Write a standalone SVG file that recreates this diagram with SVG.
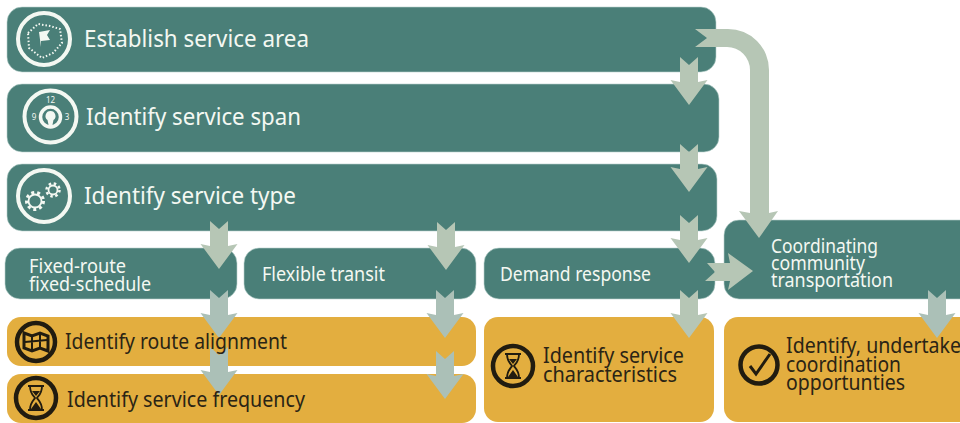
<svg xmlns="http://www.w3.org/2000/svg" width="960" height="423" viewBox="0 0 960 423">
<style>
text{font-family:"Noto Sans","Open Sans","Liberation Sans",sans-serif}
.t{fill:#4a7f78;stroke:#b9d2cd;stroke-width:.6}
.y{fill:#e3ae3f}
.lw{fill:#f4f8f2}
.ld{fill:#2a2415}
.f1{font-size:24px}.f2{font-size:19px}.f3{font-size:21px}
.a{fill:#b6c6b5}
.b{fill:#abc0b7}
.ri{fill:none;stroke:#f4f8f2;stroke-width:4}
.rd{fill:none;stroke:#211c10;stroke-width:4.500}
.iw{fill:none;stroke:#f4f8f2;stroke-width:1.800}
.id{fill:none;stroke:#211c10;stroke-width:1.800}
</style>
<defs>
<path id="down" d="M-9 0L0 8L9 0V25L18.500 23L0 48L-18.500 23L-9 25Z"/>
<g id="glass">
<circle class="rd" r="20"/>
<path class="id" d="M-8-12H8M-8 12H8M-6-12C-6-4 -2-2 -1 0C-2 2-6 4-6 12M6-12C6-4 2-2 1 0C2 2 6 4 6 12"/>
<path d="M-5 11L0 4L5 11ZM-4-7H4L0-2Z" fill="#211c10"/>
</g>
</defs>

<g id="node-establish-service-area">
<rect class="t" x="7" y="7" width="709" height="65" rx="15"/>
<circle class="ri" cx="44" cy="39" r="26"/>
<path d="M28 33L38 24L50 26L60 29L62 43L53 53L42 58L29 48Z" fill="none" stroke="#f4f8f2" stroke-width="2" stroke-dasharray="1.500 2"/>
<path d="M41 47L39 32L50 30L47 35L50 40L41 41" fill="#f4f8f2"/>
<text class="lw f1" x="84" y="47" textLength="225" lengthAdjust="spacingAndGlyphs">Establish service area</text>
</g>
<g id="node-identify-service-span">
<rect class="t" x="7" y="84" width="712" height="68" rx="15"/>
<circle class="ri" cx="50.500" cy="116.500" r="26"/>
<circle cx="50.500" cy="117" r="10" fill="none" stroke="#f4f8f2" stroke-width="3.500"/>
<path d="M50.500 111a5 5 0 0 1 3 9l-1.500 7h-3l-1.500-7a5 5 0 0 1 3-9Z" fill="#f4f8f2"/>
<text class="lw" x="50.500" y="103" font-size="8" text-anchor="middle">12</text>
<text class="lw" x="34" y="119.500" font-size="8" text-anchor="middle">9</text>
<text class="lw" x="67" y="119.500" font-size="8" text-anchor="middle">3</text>
<text class="lw f1" x="86" y="125" textLength="215" lengthAdjust="spacingAndGlyphs">Identify service span</text>
</g>
<g id="node-identify-service-type">
<rect class="t" x="7" y="164" width="710" height="67" rx="15"/>
<circle class="ri" cx="44" cy="196" r="26"/>
<circle class="iw" cx="35" cy="201" r="6.500"/>
<circle cx="35" cy="201" r="8.500" fill="none" stroke="#f4f8f2" stroke-width="3" stroke-dasharray="3 3"/>
<circle class="iw" cx="53" cy="190" r="4.500"/>
<circle cx="53" cy="190" r="6.500" fill="none" stroke="#f4f8f2" stroke-width="2.500" stroke-dasharray="2.500 2.600"/>
<text class="lw f1" x="84" y="204" textLength="212" lengthAdjust="spacingAndGlyphs">Identify service type</text>
</g>
<g id="node-fixed-route">
<rect class="t" x="5" y="248" width="232" height="51" rx="15"/>
<text class="lw f2" x="29" y="273" textLength="97" lengthAdjust="spacingAndGlyphs">Fixed-route</text>
<text class="lw f2" x="29" y="291" textLength="122" lengthAdjust="spacingAndGlyphs">fixed-schedule</text>
</g>
<g id="node-flexible-transit">
<rect class="t" x="244" y="248" width="232" height="51" rx="15"/>
<text class="lw f2" x="262" y="281" textLength="123" lengthAdjust="spacingAndGlyphs">Flexible transit</text>
</g>
<g id="node-demand-response">
<rect class="t" x="484" y="248" width="231" height="51" rx="15"/>
<text class="lw f2" x="500" y="281" textLength="151" lengthAdjust="spacingAndGlyphs">Demand response</text>
</g>
<g id="node-coordinating">
<rect class="t" x="724" y="220" width="260" height="79" rx="15"/>
<text class="lw f2" x="771" y="253" textLength="107" lengthAdjust="spacingAndGlyphs">Coordinating</text>
<text class="lw f2" x="771" y="270" textLength="94" lengthAdjust="spacingAndGlyphs">community</text>
<text class="lw f2" x="771" y="287" textLength="122" lengthAdjust="spacingAndGlyphs">transportation</text>
</g>
<g id="node-route-alignment">
<rect class="y" x="7" y="317" width="469" height="49" rx="14"/>
<circle class="rd" cx="36" cy="342" r="19"/>
<path d="M24 333L32 336L40 333L48 336V351L40 348L32 351L24 348Z" fill="#e3ae3f" stroke="#211c10" stroke-width="3"/>
<path d="M32 336V351M40 333V348M25 342L47 340" stroke="#211c10" stroke-width="2" fill="none"/>
</g>
<g id="node-service-frequency">
<rect class="y" x="7" y="374" width="469" height="49" rx="14"/>
<use href="#glass" x="36" y="398"/>
</g>
<g id="node-service-characteristics">
<rect class="y" x="484" y="317" width="230" height="105" rx="14"/>
<use href="#glass" x="513" y="366"/>
<text class="ld f3" x="543" y="363" textLength="141" lengthAdjust="spacingAndGlyphs">Identify service</text>
<text class="ld f3" x="543" y="382" textLength="134" lengthAdjust="spacingAndGlyphs">characteristics</text>
</g>
<g id="node-coordination-opportunities">
<rect class="y" x="724" y="317" width="260" height="105" rx="14"/>
<circle class="rd" cx="759" cy="365" r="18.500"/>
<path d="M750 366L756 374L770 354" fill="none" stroke="#211c10" stroke-width="3"/>
<text class="ld f3" x="786" y="353" textLength="175" lengthAdjust="spacingAndGlyphs">Identify, undertake</text>
<text class="ld f3" x="786" y="372" textLength="115" lengthAdjust="spacingAndGlyphs">coordination</text>
<text class="ld f3" x="786" y="390" textLength="119" lengthAdjust="spacingAndGlyphs">opportunties</text>
</g>

<g id="connectors">
<use class="a" href="#down" x="689" y="57"/>
<use class="a" href="#down" x="689" y="144"/>
<use class="a" href="#down" x="689" y="215"/>
<use class="a" href="#down" x="689" y="290"/>
<use class="a" href="#down" x="219" y="221"/>
<use class="b" href="#down" x="219" y="290"/>
<use class="b" href="#down" x="219" y="347"/>
<use class="a" href="#down" x="446" y="222"/>
<use class="b" href="#down" x="445" y="290"/>
<use class="b" href="#down" x="445" y="351"/>
<use class="b" href="#down" x="937" y="290"/>
<path class="a" d="M695 29L707 38L695 47H727A23 23 0 0 1 750 70V213L739 211L759 238L778 211L769 213V70A41 41 0 0 0 728 29Z"/>
<path class="a" d="M705 281L715 272L707 263H730L728 253L753 271L728 290L730 281Z"/>
</g>

<g id="label-route-alignment">
<text class="ld f3" x="65" y="349" textLength="222" lengthAdjust="spacingAndGlyphs">Identify route alignment</text>
</g>
<g id="label-service-frequency">
<text class="ld f3" x="67" y="407" textLength="238" lengthAdjust="spacingAndGlyphs">Identify service frequency</text>
</g>
</svg>
